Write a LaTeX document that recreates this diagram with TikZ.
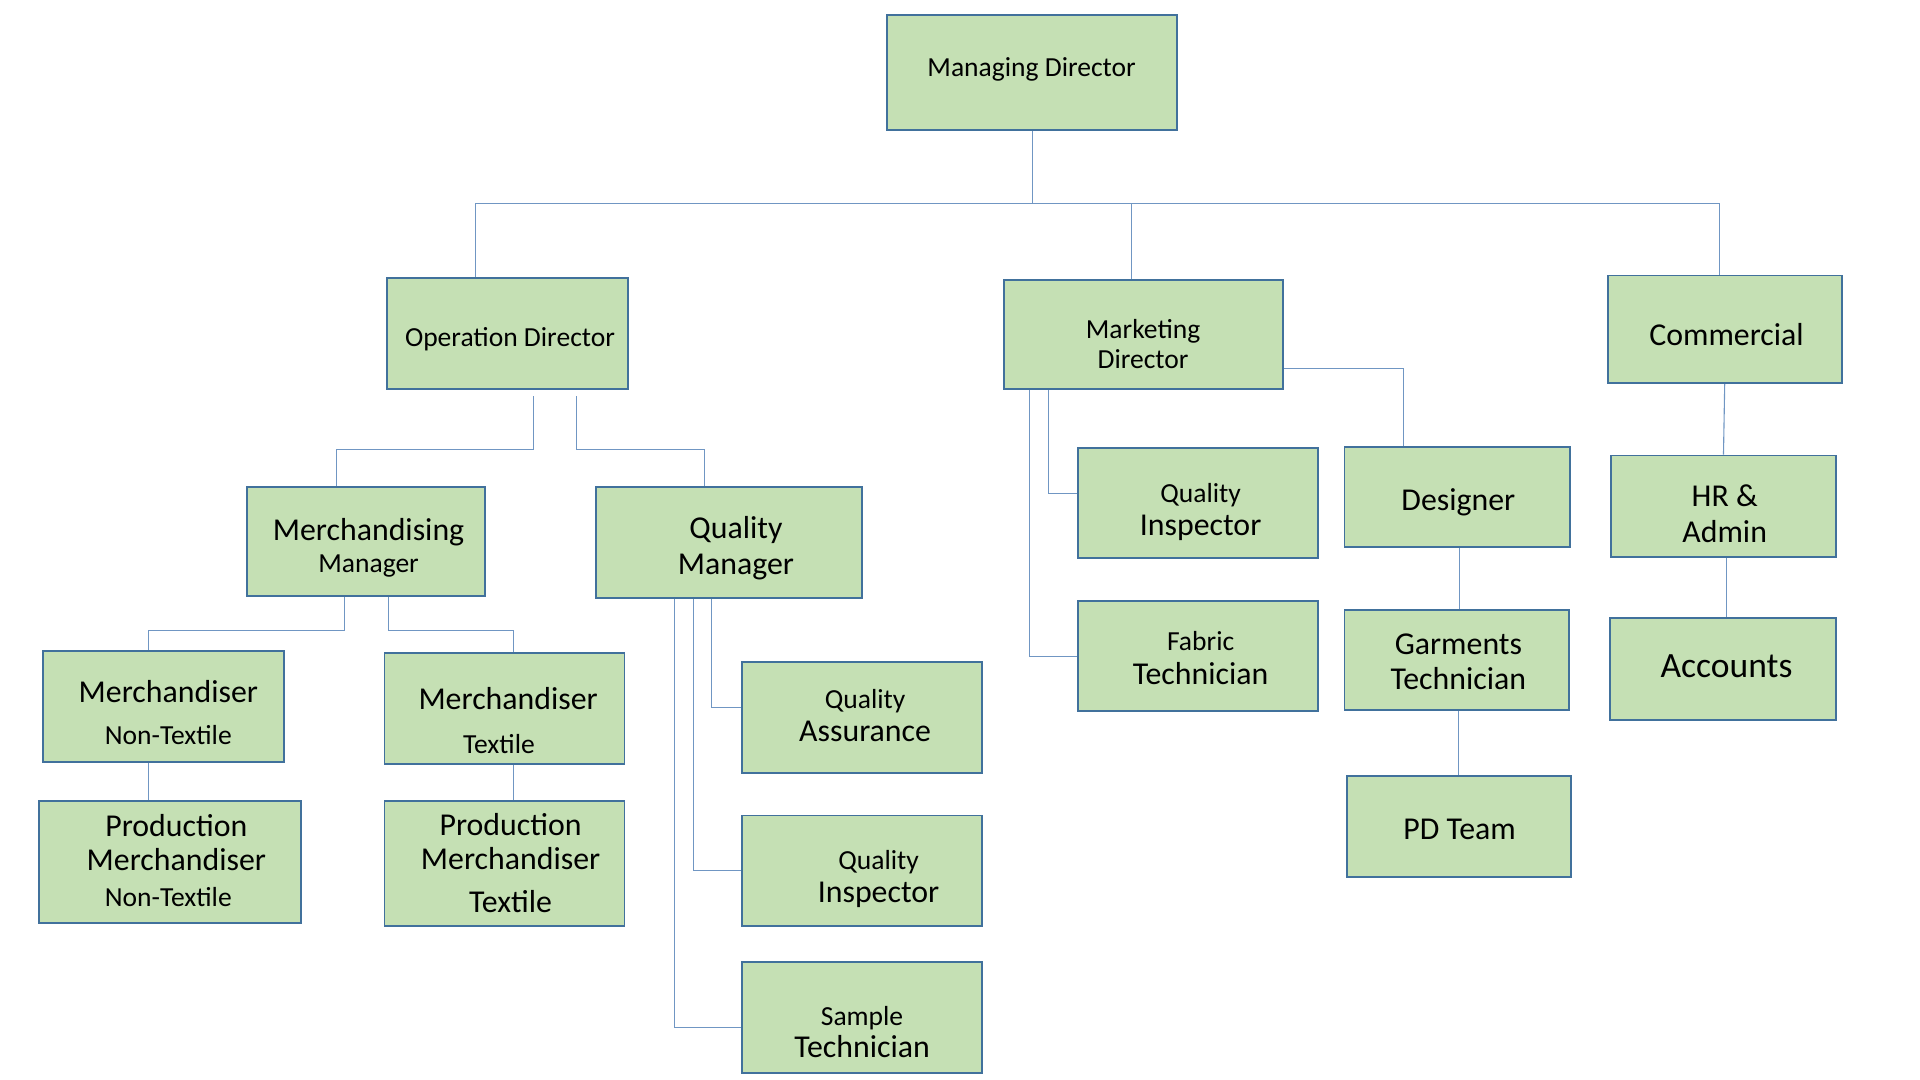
\documentclass[tikz,border=0pt]{standalone}
\usepackage{fontspec}
\setmainfont{Carlito}
\usepackage{tikz}
\definecolor{unitfill}{RGB}{197,224,180}
\definecolor{unitedge}{RGB}{65,113,156}
\definecolor{linkblue}{RGB}{112,150,195}
\newcommand\smtxt{\fontsize{22.5}{24}\selectfont\lineskiplimit=-100pt}
\newcommand\lgtxt{\fontsize{26}{24}\selectfont}

\begin{document}
\begin{tikzpicture}[x=1pt,y=-1pt,
    unit/.style={draw=unitedge, fill=unitfill, line width=1.6pt, inner sep=0pt,
      minimum width=196pt, minimum height=90pt},
    caption/.style={inner sep=0pt, align=center, font=\smtxt},
    link/.style={draw=linkblue, line width=0.9pt}]
    \useasboundingbox (0,0) rectangle (1568,882);
    % boxes
    \node [unit, minimum width=237pt, minimum height=94pt] (md) at (842.5,59) {};
    \node [unit, minimum width=197pt, minimum height=91pt] (od) at (414.5,272.5) {};
    \node [unit, minimum width=228pt, minimum height=89pt] (mkd) at (934,273.5) {};
    \node [unit, minimum width=191pt, minimum height=88pt] (com) at (1408.5,269) {};
    \node [unit, minimum width=194pt, minimum height=89pt] (mm) at (299,442.5) {};
    \node [unit, minimum width=217pt] (qm) at (595.5,443) {};
    \node [unit, minimum width=197pt] (mnt) at (133.5,577) {};
    \node [unit, minimum height=91pt] (mt) at (412,578.5) {};
    \node [unit, minimum width=214pt, minimum height=100pt] (pnt) at (139,704) {};
    \node [unit, minimum height=102pt] (pt) at (412,705) {};
    \node [unit] (qa) at (704,586) {};
    \node [unit] (qi) at (704,711) {};
    \node [unit] (st) at (704,831) {};
    \node [unit] (mqi) at (978,411) {};
    \node [unit] (ft) at (978,536) {};
    \node [unit, minimum width=184pt, minimum height=82pt] (des) at (1190,406) {};
    \node [unit, minimum width=183pt, minimum height=82pt] (gt) at (1189.5,539) {};
    \node [unit, minimum width=183pt, minimum height=82pt] (pd) at (1191.5,675) {};
    \node [unit, minimum width=183pt, minimum height=83pt] (hr) at (1407.5,413.5) {};
    \node [unit, minimum width=184pt, minimum height=83pt] (acc) at (1407,546.5) {};
    % texts
    \node [caption] (md-l) at (842.5,57) {Managing Director};
    \node [caption] (od-l) at (416.5,277) {Operation Director};
    \node [caption] (mkd-l) at (933.5,281) {Marketing\\Director};
    \node [caption] (com-l) at (1410,273) {{\lgtxt Commercial}};
    \node [caption] (mm-l) at (301,447.5) {{\lgtxt Merchandising}\\[2.4pt]Manager};
    \node [caption] (qm-l) at (601,447.5) {{\lgtxt Quality}\\[5pt]{\lgtxt Manager}};
    \node [caption] (mnt-l) at (137.5,582) {{\lgtxt Merchandiser}\\[10.4pt]Non-Textile};
    \node [caption] (mt-l) at (415,588.5) {{\lgtxt Merchandiser}\\[12.4pt]Textile\hspace*{15pt}};
    \node [caption] (pnt-l) at (144,703) {{\lgtxt Production}\\[4pt]{\lgtxt Merchandiser}\\[5.4pt]Non-Textile\hspace*{13pt}};
    \node [caption] (pt-l) at (417,704.5) {{\lgtxt Production}\\[4pt]{\lgtxt Merchandiser}\\[11pt]{\lgtxt Textile}};
    \node [caption] (qa-l) at (706.5,584.5) {Quality\\[2.6pt]{\lgtxt Assurance}};
    \node [caption] (qi-l) at (717.5,718) {Quality\\[2.6pt]{\lgtxt Inspector}};
    \node [caption] (st-l) at (704,843) {Sample\\[2.6pt]{\lgtxt Technician}};
    \node [caption] (mqi-l) at (980.5,418) {Quality\\[2.6pt]{\lgtxt Inspector}};
    \node [caption] (ft-l) at (980.5,537.5) {Fabric\\[3.6pt]{\lgtxt Technician}};
    \node [caption] (des-l) at (1191,410.5) {{\lgtxt Designer}};
    \node [caption] (gt-l) at (1191,540.5) {{\lgtxt Garments}\\[5pt]{\lgtxt Technician}};
    \node [caption] (pd-l) at (1192,677) {{\lgtxt PD Team}};
    \node [caption] (hr-l) at (1408.5,419.5) {{\lgtxt HR \&}\\[5pt]{\lgtxt Admin}};
    \node [caption] (acc-l) at (1410,544) {{\fontsize{29}{24}\selectfont Accounts}};
    % connectors
    \coordinate (bus) at (843,166);
    \draw [link] (bus |- md.south) -- (bus);
    \draw [link] ([xshift=-26.5]od.north) |- (bus) -| ([xshift=-4]com.north);
    \draw [link] ([xshift=-10]mkd.north) -- ([xshift=-10]mkd.north |- bus);
    \draw [link] ([xshift=21.5,yshift=-5]od.south) -- ++(0,43) -| ([xshift=-24]mm.north);
    \draw [link] ([xshift=56.5,yshift=-5]od.south) -- ++(0,43) -| ([xshift=-20.5]qm.north);
    \draw [link] ([xshift=-18]mm.south) -- ++(0,27) -| ([xshift=-12.5]mnt.north);
    \draw [link] ([xshift=18]mm.south) -- ++(0,27) -| ([xshift=7]mt.north);
    \draw [link] ([xshift=-12.5]mnt.south) -- ([xshift=-12.5]mnt.south |- pnt.north);
    \draw [link] ([xshift=7]mt.south) -- ([xshift=7]mt.south |- pt.north);
    \draw [link] ([xshift=-14.5]qm.south) |- ([yshift=8]qa.west);
    \draw [link] ([xshift=-29.5]qm.south) |- (qi.west);
    \draw [link] ([xshift=-44.5]qm.south) |- ([yshift=-8]st.west);
    \draw [link] ([xshift=-78]mkd.south) |- ([yshift=8]mqi.west);
    \draw [link] ([xshift=-93]mkd.south) |- (ft.west);
    \draw [link] ([yshift=-27.5]mkd.east) -| ([xshift=-44]des.north);
    \draw [link] ([xshift=2]des.south) -- ([xshift=2]des.south |- gt.north);
    \draw [link] ([xshift=1.5]gt.south) -- ([xshift=1.5]gt.south |- pd.north);
    \draw [link] (com.south) -- (hr.north);
    \draw [link] ([xshift=2.5]hr.south) -- ([xshift=3]acc.north);
\end{tikzpicture}
\end{document}
